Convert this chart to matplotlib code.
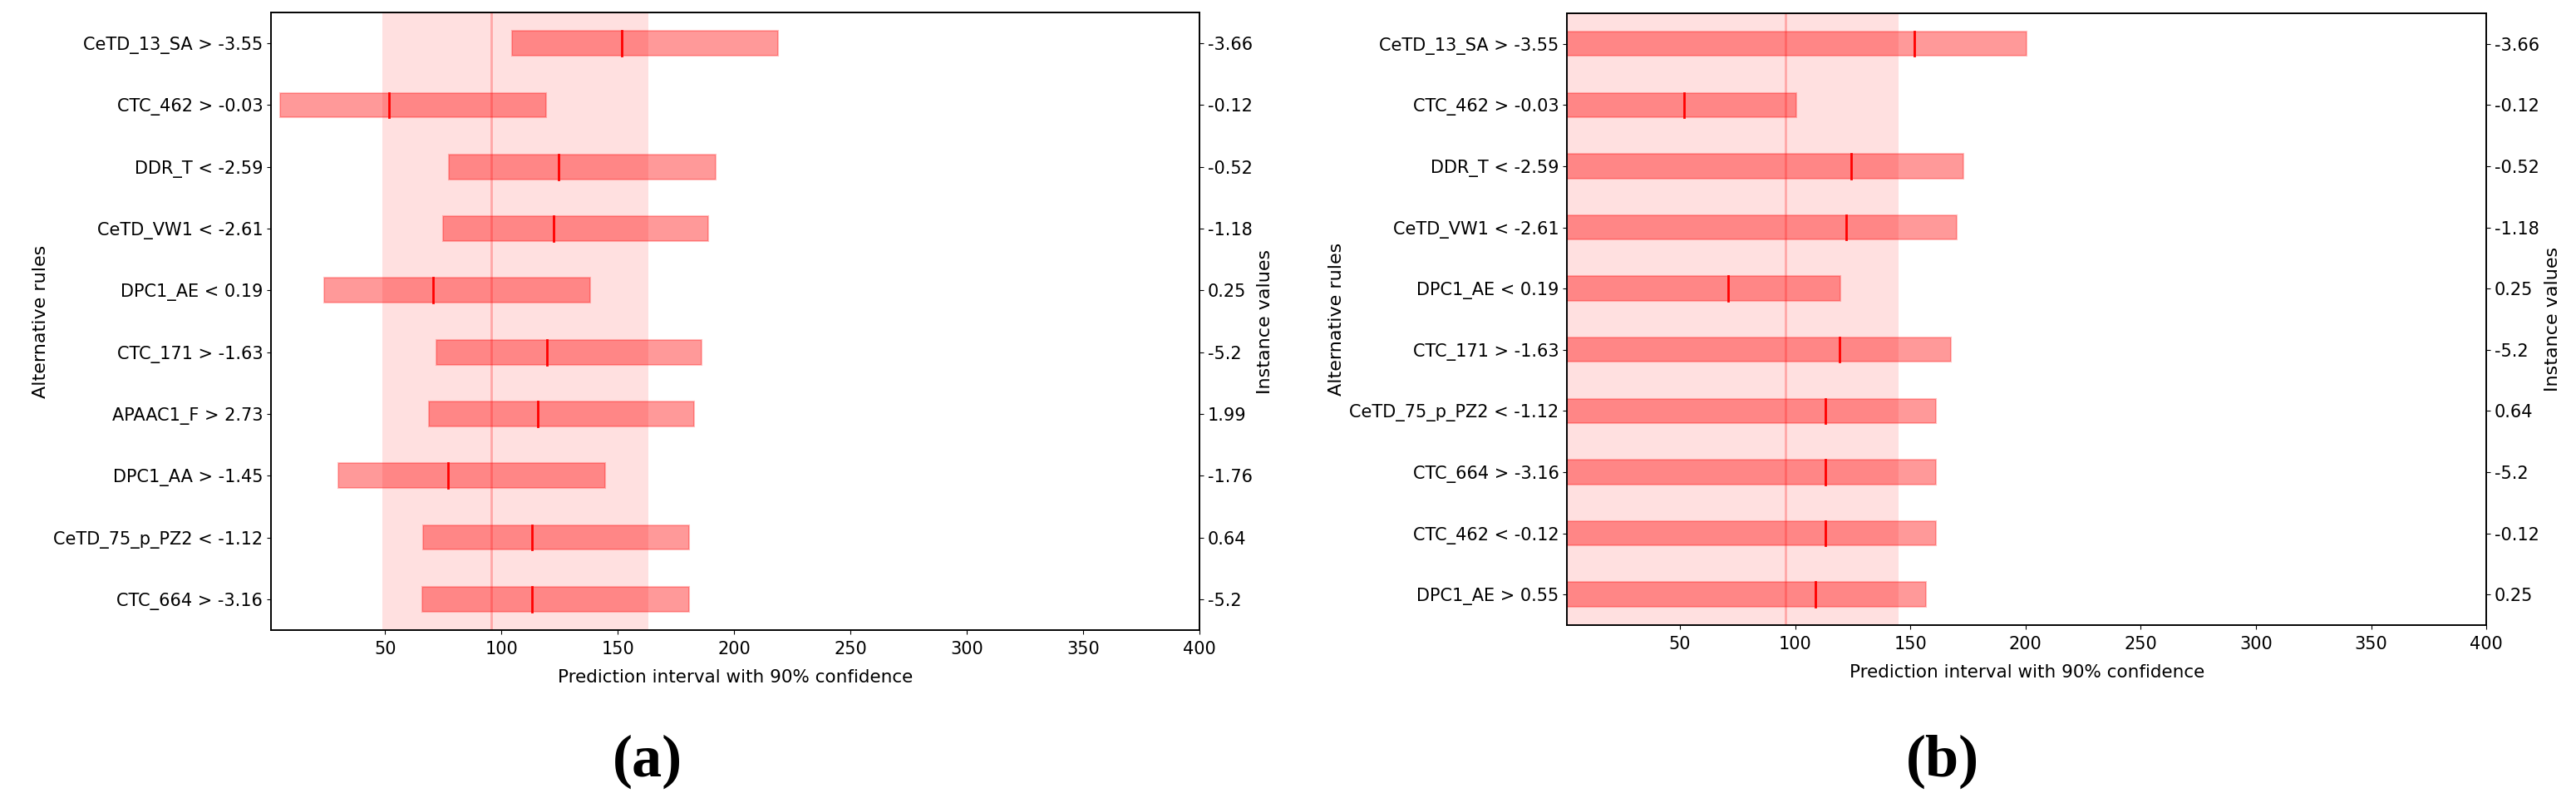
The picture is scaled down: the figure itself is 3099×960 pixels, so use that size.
import numpy as np
import matplotlib.pyplot as plt

plt.rcParams['font.family'] = ['DejaVu Sans']

# panel (a)
rules_a = ['CeTD_13_SA > -3.55', 'CTC_462 > -0.03', 'DDR_T < -2.59', 'CeTD_VW1 < -2.61',
           'DPC1_AE < 0.19', 'CTC_171 > -1.63', 'APAAC1_F > 2.73', 'DPC1_AA > -1.45',
           'CeTD_75_p_PZ2 < -1.12', 'CTC_664 > -3.16']
low_a = [104.6, 4.9, 77.6, 74.8, 23.9, 72.1, 68.8, 30.1, 66.4, 65.9]
med_a = [151.8, 51.8, 124.6, 122.3, 70.8, 119.5, 115.5, 77.0, 113.1, 113.1]
high_a = [219.0, 119.2, 192.0, 188.9, 138.3, 186.1, 183.0, 144.5, 180.7, 180.7]
inst_a = ['-3.66', '-0.12', '-0.52', '-1.18', '0.25', '-5.2', '1.99', '-1.76', '0.64', '-5.2']
band_a = [48.9, 163.3]
pred_a = 95.8

# panel (b)
rules_b = ['CeTD_13_SA > -3.55', 'CTC_462 > -0.03', 'DDR_T < -2.59', 'CeTD_VW1 < -2.61',
           'DPC1_AE < 0.19', 'CTC_171 > -1.63', 'CeTD_75_p_PZ2 < -1.12', 'CTC_664 > -3.16',
           'CTC_462 < -0.12', 'DPC1_AE > 0.55']
low_b = [0, 0, 0, 0, 0, 0, 0, 0, 0, 0]
med_b = [151.7, 51.7, 124.5, 122.1, 70.9, 119.3, 113.3, 113.3, 113.3, 108.8]
high_b = [200.4, 100.6, 172.9, 170.3, 119.5, 167.6, 161.3, 161.3, 161.3, 156.7]
inst_b = ['-3.66', '-0.12', '-0.52', '-1.18', '0.25', '-5.2', '0.64', '-5.2', '-0.12', '0.25']
band_b = [0, 144.8]
pred_b = 95.8

xticks = [50, 100, 150, 200, 250, 300, 350, 400]


def draw_panel(ax, rules, low, med, high, inst, band, pred):
    n = len(rules)
    y = np.arange(n)[::-1]
    low = np.array(low)
    high = np.array(high)
    ax.axvspan(band[0], band[1], color='red', alpha=0.12, lw=0)
    ax.axvline(pred, color='red', alpha=0.25, lw=2)
    ax.barh(y, high - low, left=low, height=0.4, color=(1, 0, 0, 0.4),
            edgecolor=(1, 0, 0, 0.25), linewidth=1.5)
    for yi, m in zip(y, med):
        ax.plot([m, m], [yi - 0.2, yi + 0.2], color='red', lw=2)
    ax.set_xlim(1, 400)
    ax.set_ylim(-0.5, n - 0.5)
    ax.set_xticks(xticks)
    ax.set_yticks(y)
    ax.set_yticklabels(rules)
    ax.tick_params(labelsize=15)
    ax.tick_params(axis='x', pad=6)
    ax.set_xlabel('Prediction interval with 90% confidence', fontsize=15.5, labelpad=10)
    ax.set_ylabel('Alternative rules', fontsize=16)
    for s in ax.spines.values():
        s.set_linewidth(1.2)
    tw = ax.twinx()
    tw.set_ylim(ax.get_ylim())
    tw.set_yticks(y)
    tw.set_yticklabels(inst)
    tw.tick_params(labelsize=15)
    tw.set_ylabel('Instance values', fontsize=16)
    for s in tw.spines.values():
        s.set_linewidth(1.2)


fig = plt.figure(figsize=(30.99, 9.6), dpi=100)
ax1 = fig.add_axes([0.1052, 0.2104, 0.3604, 0.774])
ax2 = fig.add_axes([0.6083, 0.2167, 0.3569, 0.7667])
draw_panel(ax1, rules_a, low_a, med_a, high_a, inst_a, band_a, pred_a)
draw_panel(ax2, rules_b, low_b, med_b, high_b, inst_b, band_b, pred_b)

fig.text(779 / 3099, 1 - 916 / 960, '(a)', ha='center', va='center', fontsize=52,
         fontweight='bold', family='Liberation Serif')
fig.text(2337 / 3099, 1 - 916 / 960, '(b)', ha='center', va='center', fontsize=52,
         fontweight='bold', family='Liberation Serif')

fig.savefig('out.png', dpi=100)
